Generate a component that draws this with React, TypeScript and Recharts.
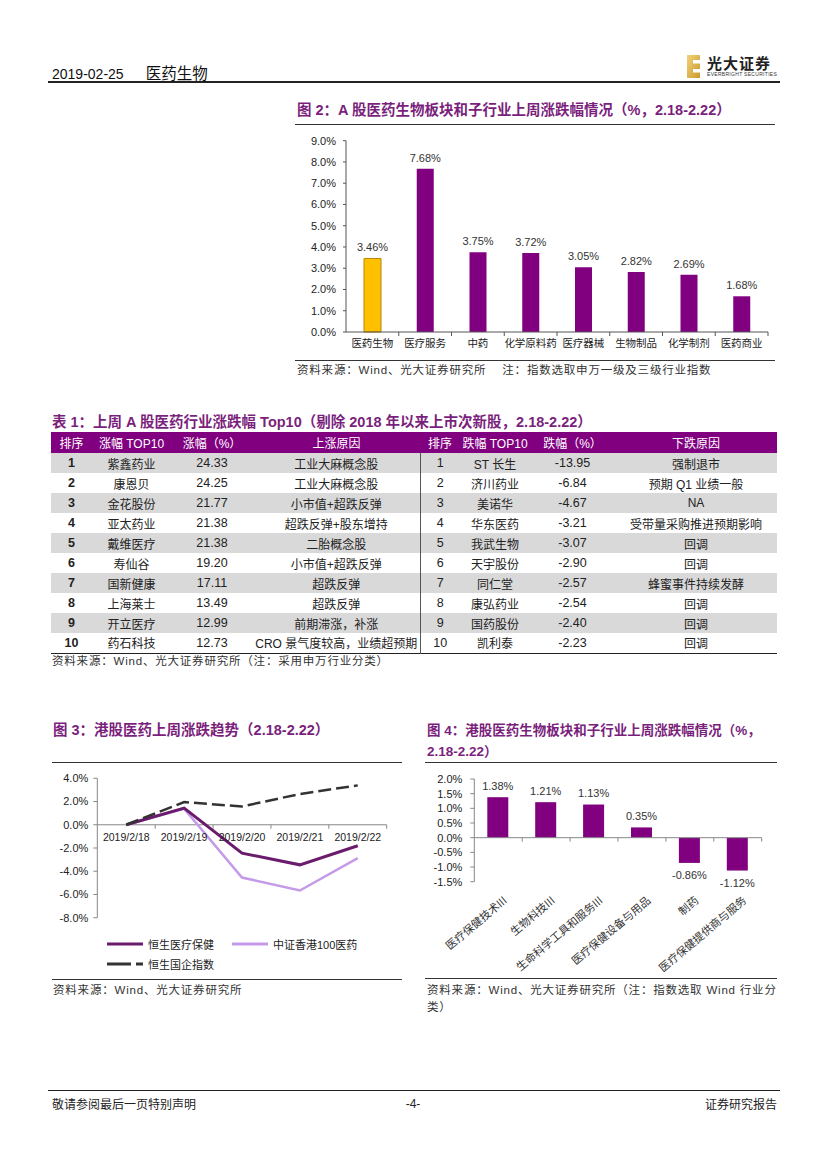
import React from "react"
import {
  BarChart,
  Bar,
  Cell,
  XAxis,
  YAxis,
  LabelList,
  ReferenceLine,
  ReferenceDot,
  LineChart,
  Line,
} from "recharts"

const PURPLE = "#800080"
const TITLE_COLOR = "#7b1f7d"
const SANS = '"Liberation Sans", Arial, "Noto Sans CJK SC", sans-serif'
const CJK = '"Noto Sans CJK SC", "Liberation Sans", sans-serif'

// 图2：A股医药生物板块和子行业
const aCategories = ["医药生物", "医疗服务", "中药", "化学原料药", "医疗器械", "生物制品", "化学制剂", "医药商业"]
const aValues = [3.46, 7.68, 3.75, 3.72, 3.05, 2.82, 2.69, 1.68]
const aTicks = [0, 1, 2, 3, 4, 5, 6, 7, 8, 9]

// 表1
const ranks = [1, 2, 3, 4, 5, 6, 7, 8, 9, 10]
const upNames = ["紫鑫药业", "康恩贝", "金花股份", "亚太药业", "戴维医疗", "寿仙谷", "国新健康", "上海莱士", "开立医疗", "药石科技"]
const upPct = ["24.33", "24.25", "21.77", "21.38", "21.38", "19.20", "17.11", "13.49", "12.99", "12.73"]
const upReasons = [
  "工业大麻概念股",
  "工业大麻概念股",
  "小市值+超跌反弹",
  "超跌反弹+股东增持",
  "二胎概念股",
  "小市值+超跌反弹",
  "超跌反弹",
  "超跌反弹",
  "前期滞涨，补涨",
  "CRO 景气度较高，业绩超预期",
]
const downNames = ["ST 长生", "济川药业", "美诺华", "华东医药", "我武生物", "天宇股份", "同仁堂", "康弘药业", "国药股份", "凯利泰"]
const downPct = ["-13.95", "-6.84", "-4.67", "-3.21", "-3.07", "-2.90", "-2.57", "-2.54", "-2.40", "-2.23"]
const downReasons = ["强制退市", "预期 Q1 业绩一般", "NA", "受带量采购推进预期影响", "回调", "回调", "蜂蜜事件持续发酵", "回调", "回调", "回调"]

// 图3：港股医药上周涨跌趋势
const hkDates = ["2019/2/18", "2019/2/19", "2019/2/20", "2019/2/21", "2019/2/22"]
const hsHealth = [0, 1.44, -2.44, -3.45, -1.81]
const csiHk100 = [0, 1.38, -4.54, -5.66, -2.87]
const hscei = [0, 1.95, 1.58, 2.65, 3.39]
const hkTicks = [-8, -6, -4, -2, 0, 2, 4]

// 图4：港股医药生物子行业
const hkSectors = ["医疗保健技术III", "生物科技III", "生命科学工具和服务III", "医疗保健设备与用品", "制药", "医疗保健提供商与服务"]
const hkSectorValues = [1.38, 1.21, 1.13, 0.35, -0.86, -1.12]
const hkSectorTicks = [-1.5, -1, -0.5, 0, 0.5, 1, 1.5, 2]

const pct1 = (v: number) => `${v.toFixed(1)}%`

// 在零轴上画分类之间的刻度
const bandTicks = (n: number, len: number, color: string) => (props: any) => {
  const { x, y, width } = props.viewBox
  return (
    <g>
      {Array.from({ length: n }, (_, i) => {
        const tx = x + ((i + 1) * width) / n
        return <line key={i} x1={tx} x2={tx} y1={y} y2={y + len} stroke={color} strokeWidth={1} />
      })}
    </g>
  )
}

const valueLabel = (props: any) => {
  const { x, y, width, height, value } = props
  const top = Math.min(y, y + height)
  const bottom = Math.max(y, y + height)
  const cy = value >= 0 ? top - 11 : bottom + 12
  return (
    <text x={x + width / 2} y={cy} dy="0.36em" textAnchor="middle" fontSize={11} fill="#333" fontFamily={SANS}>
      {value.toFixed(2)}%
    </text>
  )
}

const RotatedTick = (props: any) => {
  const { x, y, payload } = props
  const tx = x + 7
  const ty = y + 9
  return (
    <text
      x={tx}
      y={ty}
      dy="0.36em"
      textAnchor="end"
      fontSize={11}
      fill="#333"
      fontFamily={CJK}
      transform={`rotate(-40, ${tx}, ${ty})`}
    >
      {payload.value}
    </text>
  )
}

const HLine = ({ left, top, width, h = 1, color = "#333" }: any) => (
  <div style={{ position: "absolute", left, top, width, height: h, background: color }} />
)

const Title = ({ left, top, size = 14.5, children }: any) => (
  <div
    style={{
      position: "absolute",
      left,
      top,
      color: TITLE_COLOR,
      fontFamily: SANS,
      fontWeight: 700,
      fontSize: size,
      lineHeight: "21px",
      whiteSpace: "nowrap",
    }}
  >
    {children}
  </div>
)

const Source = ({ left, top, children }: any) => (
  <div
    style={{
      position: "absolute",
      left,
      top,
      color: "#333",
      fontFamily: SANS,
      fontSize: 11.5,
      letterSpacing: 0.8,
      lineHeight: "17px",
      whiteSpace: "nowrap",
    }}
  >
    {children}
  </div>
)

const Logo = () => (
  <div style={{ position: "absolute", left: 686, top: 50 }}>
    <svg width={120} height={32} style={{ overflow: "visible" }}>
      <defs>
        <linearGradient id="gold" x1="0" y1="0" x2="1" y2="1">
          <stop offset="0%" stopColor="#f3d27a" />
          <stop offset="100%" stopColor="#c99a2e" />
        </linearGradient>
      </defs>
      <rect x={1} y={5} width={13} height={23} fill="url(#gold)" />
      <rect x={7} y={10} width={7} height={3.5} fill="#fff" />
      <rect x={7} y={19} width={7} height={3.5} fill="#fff" />
      <text x={21} y={19} fontSize={15} fontWeight={700} fill="#222" fontFamily={CJK} letterSpacing={1}>
        光大证券
      </text>
      <text x={21} y={26} fontSize={5} fill="#333" fontFamily={SANS} letterSpacing={0.3}>
        EVERBRIGHT SECURITIES
      </text>
    </svg>
  </div>
)

const Fig2 = () => {
  const data = aCategories.map((name, i) => ({ name, value: aValues[i] }))
  return (
    <div style={{ position: "absolute", left: 290, top: 130 }}>
      <BarChart width={490} height={230} data={data} margin={{ top: 10.7, right: 12, bottom: 0, left: 0 }}>
        <YAxis
          domain={[0, 9]}
          ticks={aTicks}
          interval={0}
          tickFormatter={pct1}
          width={56}
          tickSize={3}
          tickMargin={7}
          axisLine={{ stroke: "#555" }}
          tickLine={{ stroke: "#555" }}
          tick={{ fontSize: 11, fill: "#222", fontFamily: SANS }}
        />
        <XAxis
          dataKey="name"
          height={28}
          interval={0}
          axisLine={false}
          tickLine={false}
          tick={{ fontSize: 10.5, fill: "#222", fontFamily: CJK }}
        />
        <Bar dataKey="value" barSize={17} isAnimationActive={false}>
          {data.map((d, i) => (
            <Cell key={d.name} fill={i === 0 ? "#ffc000" : PURPLE} stroke={i === 0 ? "#b8860b" : "none"} />
          ))}
          <LabelList dataKey="value" content={valueLabel} />
        </Bar>
        <ReferenceLine y={0} stroke="#555" label={bandTicks(aCategories.length, 4, "#555")} />
      </BarChart>
    </div>
  )
}

const cellBase: React.CSSProperties = {
  padding: 0,
  textAlign: "center",
  whiteSpace: "nowrap",
  overflow: "visible",
  fontSize: 12,
  color: "#222",
  fontFamily: SANS,
}

const Table1 = () => {
  const widths = [41, 79, 82, 167, 40, 70, 85, 162]
  const headers = ["排序", "涨幅 TOP10", "涨幅（%）", "上涨原因", "排序", "跌幅 TOP10", "跌幅（%）", "下跌原因"]
  return (
    <table
      style={{
        position: "absolute",
        left: 51,
        top: 432,
        width: 726,
        borderCollapse: "collapse",
        tableLayout: "fixed",
      }}
    >
      <colgroup>
        {widths.map((w, i) => (
          <col key={i} style={{ width: w }} />
        ))}
      </colgroup>
      <thead>
        <tr style={{ height: 21, background: PURPLE }}>
          {headers.map((h, i) => (
            <th key={i} style={{ ...cellBase, color: "#fff", fontWeight: 400, fontSize: 12 }}>
              {h}
            </th>
          ))}
        </tr>
      </thead>
      <tbody>
        {ranks.map((r, i) => (
          <tr
            key={r}
            style={{
              height: 20,
              background: i % 2 === 0 ? "#d9d9d9" : "#fff",
              borderBottom: i === ranks.length - 1 ? "1.5px solid #222" : "none",
            }}
          >
            <td style={{ ...cellBase, fontWeight: 700, fontSize: 12.5 }}>{r}</td>
            <td style={cellBase}>{upNames[i]}</td>
            <td style={{ ...cellBase, fontSize: 12.5 }}>{upPct[i]}</td>
            <td style={cellBase}>{upReasons[i]}</td>
            <td style={{ ...cellBase, fontSize: 12.5, borderLeft: "1px solid #555" }}>{r}</td>
            <td style={cellBase}>{downNames[i]}</td>
            <td style={{ ...cellBase, fontSize: 12.5 }}>{downPct[i]}</td>
            <td style={cellBase}>{downReasons[i]}</td>
          </tr>
        ))}
      </tbody>
    </table>
  )
}

const Fig3 = () => {
  const data = hkDates.map((date, i) => ({
    idx: i,
    date,
    health: hsHealth[i],
    csi: csiHk100[i],
    hscei: hscei[i],
  }))
  return (
    <div style={{ position: "absolute", left: 45, top: 770 }}>
      <LineChart width={350} height={160} data={data} margin={{ top: 8.3, right: 8.3, bottom: 12.3, left: 0 }}>
        <XAxis type="number" dataKey="idx" domain={[-0.5, hkDates.length - 0.5]} hide />
        <YAxis
          domain={[-8, 4]}
          ticks={hkTicks}
          interval={0}
          tickFormatter={pct1}
          width={52.3}
          tickSize={4}
          tickMargin={5}
          axisLine={{ stroke: "#888" }}
          tickLine={{ stroke: "#888" }}
          tick={{ fontSize: 11, fill: "#222", fontFamily: SANS }}
        />
        <ReferenceLine y={0} stroke="#888" label={bandTicks(hkDates.length, 4, "#888")} />
        {data.map((d) => (
          <ReferenceDot
            key={d.date}
            x={d.idx}
            y={0}
            r={0}
            fill="none"
            stroke="none"
            label={{ value: d.date, position: "bottom", offset: 9, fontSize: 10.5, fill: "#222", fontFamily: SANS }}
          />
        ))}
        <Line dataKey="csi" stroke="#c59be9" strokeWidth={2.5} dot={false} isAnimationActive={false} />
        <Line dataKey="health" stroke="#6b1b6c" strokeWidth={3} dot={false} isAnimationActive={false} />
        <Line
          dataKey="hscei"
          stroke="#333"
          strokeWidth={2.5}
          strokeDasharray="13 5"
          dot={false}
          isAnimationActive={false}
        />
      </LineChart>
    </div>
  )
}

const LegendItem = ({ left, top, color, dash, label }: any) => (
  <div style={{ position: "absolute", left, top, display: "flex", alignItems: "center", height: 16 }}>
    <svg width={37} height={16}>
      <line x1={0} x2={36} y1={8} y2={8} stroke={color} strokeWidth={3} strokeDasharray={dash} />
    </svg>
    <span style={{ marginLeft: 4, fontSize: 11, fontFamily: SANS, color: "#222" }}>{label}</span>
  </div>
)

const Fig4 = () => {
  const data = hkSectors.map((name, i) => ({ name, value: hkSectorValues[i] }))
  return (
    <div style={{ position: "absolute", left: 415, top: 770 }}>
      <BarChart width={365} height={205} data={data} margin={{ top: 9, right: 18.3, bottom: 0, left: 0 }}>
        <YAxis
          domain={[-1.5, 2]}
          ticks={hkSectorTicks}
          interval={0}
          tickFormatter={pct1}
          width={59.3}
          tickSize={4}
          tickMargin={8}
          axisLine={{ stroke: "#888" }}
          tickLine={{ stroke: "#888" }}
          tick={{ fontSize: 11, fill: "#222", fontFamily: SANS }}
        />
        <XAxis dataKey="name" height={93.3} interval={0} axisLine={false} tickLine={false} tick={<RotatedTick />} />
        <Bar dataKey="value" fill={PURPLE} barSize={21} isAnimationActive={false}>
          <LabelList dataKey="value" content={valueLabel} />
        </Bar>
        <ReferenceLine y={0} stroke="#888" label={bandTicks(hkSectors.length, 4, "#888")} />
      </BarChart>
    </div>
  )
}

export default function App() {
  return (
    <div
      style={{
        position: "absolute",
        left: 0,
        top: 0,
        width: 827,
        height: 1169,
        background: "#fff",
        fontFamily: SANS,
        overflow: "hidden",
      }}
    >
      {/* 页眉 */}
      <div style={{ position: "absolute", left: 52, top: 63, fontSize: 14, lineHeight: "18px", color: "#111", fontFamily: SANS }}>
        2019-02-25
        <span style={{ marginLeft: 22, fontFamily: CJK, fontSize: 15.5 }}>医药生物</span>
      </div>
      <Logo />
      <HLine left={48} top={81} width={732} h={1.5} color="#222" />

      {/* 图2 */}
      <Title left={297} top={99.5}>
        图 2：A 股医药生物板块和子行业上周涨跌幅情况（%，2.18-2.22）
      </Title>
      <HLine left={295} top={124} width={480} />
      <Fig2 />
      <HLine left={295} top={360} width={480} />
      <Source left={297} top={362}>
        资料来源：Wind、光大证券研究所&nbsp;&nbsp;&nbsp;&nbsp;注：指数选取申万一级及三级行业指数
      </Source>

      {/* 表1 */}
      <Title left={52} top={411.5}>
        表 1：上周 A 股医药行业涨跌幅 Top10（剔除 2018 年以来上市次新股，2.18-2.22）
      </Title>
      <Table1 />
      <Source left={52} top={653}>
        资料来源：Wind、光大证券研究所（注：采用申万行业分类）
      </Source>

      {/* 图3 */}
      <Title left={53} top={719.5}>
        图 3：港股医药上周涨跌趋势（2.18-2.22）
      </Title>
      <HLine left={52} top={762} width={350} />
      <Fig3 />
      <LegendItem left={107} top={936} color="#6b1b6c" label="恒生医疗保健" />
      <LegendItem left={232} top={936} color="#c59be9" label="中证香港100医药" />
      <LegendItem left={107} top={956} color="#333" dash="24 5" label="恒生国企指数" />
      <HLine left={52} top={978.5} width={350} />
      <Source left={53} top={982}>
        资料来源：Wind、光大证券研究所
      </Source>

      {/* 图4 */}
      <Title left={427} top={719.5} size={13.5}>
        图 4：港股医药生物板块和子行业上周涨跌幅情况（%，
        <br />
        2.18-2.22）
      </Title>
      <HLine left={425} top={762} width={352} />
      <Fig4 />
      <HLine left={425} top={977.5} width={352} />
      <Source left={427} top={982}>
        资料来源：Wind、光大证券研究所（注：指数选取 Wind 行业分
        <br />
        类）
      </Source>

      {/* 页脚 */}
      <HLine left={48} top={1090} width={732} h={1} color="#222" />
      <div style={{ position: "absolute", left: 52, top: 1096, fontSize: 12, lineHeight: "16px", color: "#222", fontFamily: CJK }}>
        敬请参阅最后一页特别声明
      </div>
      <div
        style={{
          position: "absolute",
          left: 383,
          width: 60,
          top: 1096,
          textAlign: "center",
          fontSize: 12,
          lineHeight: "16px",
          color: "#222",
        }}
      >
        -4-
      </div>
      <div
        style={{
          position: "absolute",
          right: 827 - 777,
          top: 1096,
          fontSize: 12,
          lineHeight: "16px",
          color: "#222",
          fontFamily: CJK,
        }}
      >
        证券研究报告
      </div>
    </div>
  )
}
